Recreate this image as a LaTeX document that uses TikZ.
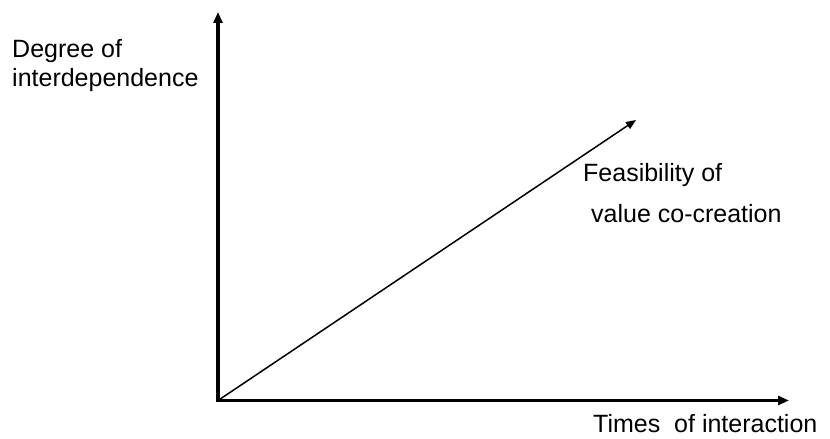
\documentclass[tikz,border=0pt]{standalone}
\usepackage{fontspec}
\setmainfont{Liberation Sans}
\usepackage{xcolor}
\usepackage{tikz}
\usetikzlibrary{arrows.meta, positioning}

\tikzset{
    axisline/.style={line width=3.5pt, line join=miter, {Triangle[length=11pt,width=9pt]}-{Triangle[length=11pt,width=9pt]}},
    growline/.style={line width=1.5pt, -{Triangle[length=10pt,width=8pt]}},
    lbl/.style={inner sep=0pt, align=left, font=\fontsize{25}{29}\selectfont}
}

\begin{document}
\begin{tikzpicture}[x=1pt, y=1pt]
    \useasboundingbox (0,0) rectangle (830,439);

    % Axes
    \coordinate (origin) at (218,38.5);
    \coordinate (ytip) at (218,427);
    \coordinate (xtip) at (789,38.5);
    \coordinate (ftip) at (636,319);
    \draw[axisline] (ytip) -- (origin) -- (xtip);

    % Diagonal
    \draw[growline] (origin) -- (ftip);

    % Labels
    \node[lbl, anchor=base west] (ylabel) at (12,352) {Degree of\\interdependence};
    \node[lbl, anchor=base west] (xlabel) at (593,6) {Times\ \ of interaction};
    \node[lbl, anchor=base west] (flabel) at (583,216) {Feasibility of\\[12pt]\hspace*{8pt}value co-creation};
\end{tikzpicture}
\end{document}
